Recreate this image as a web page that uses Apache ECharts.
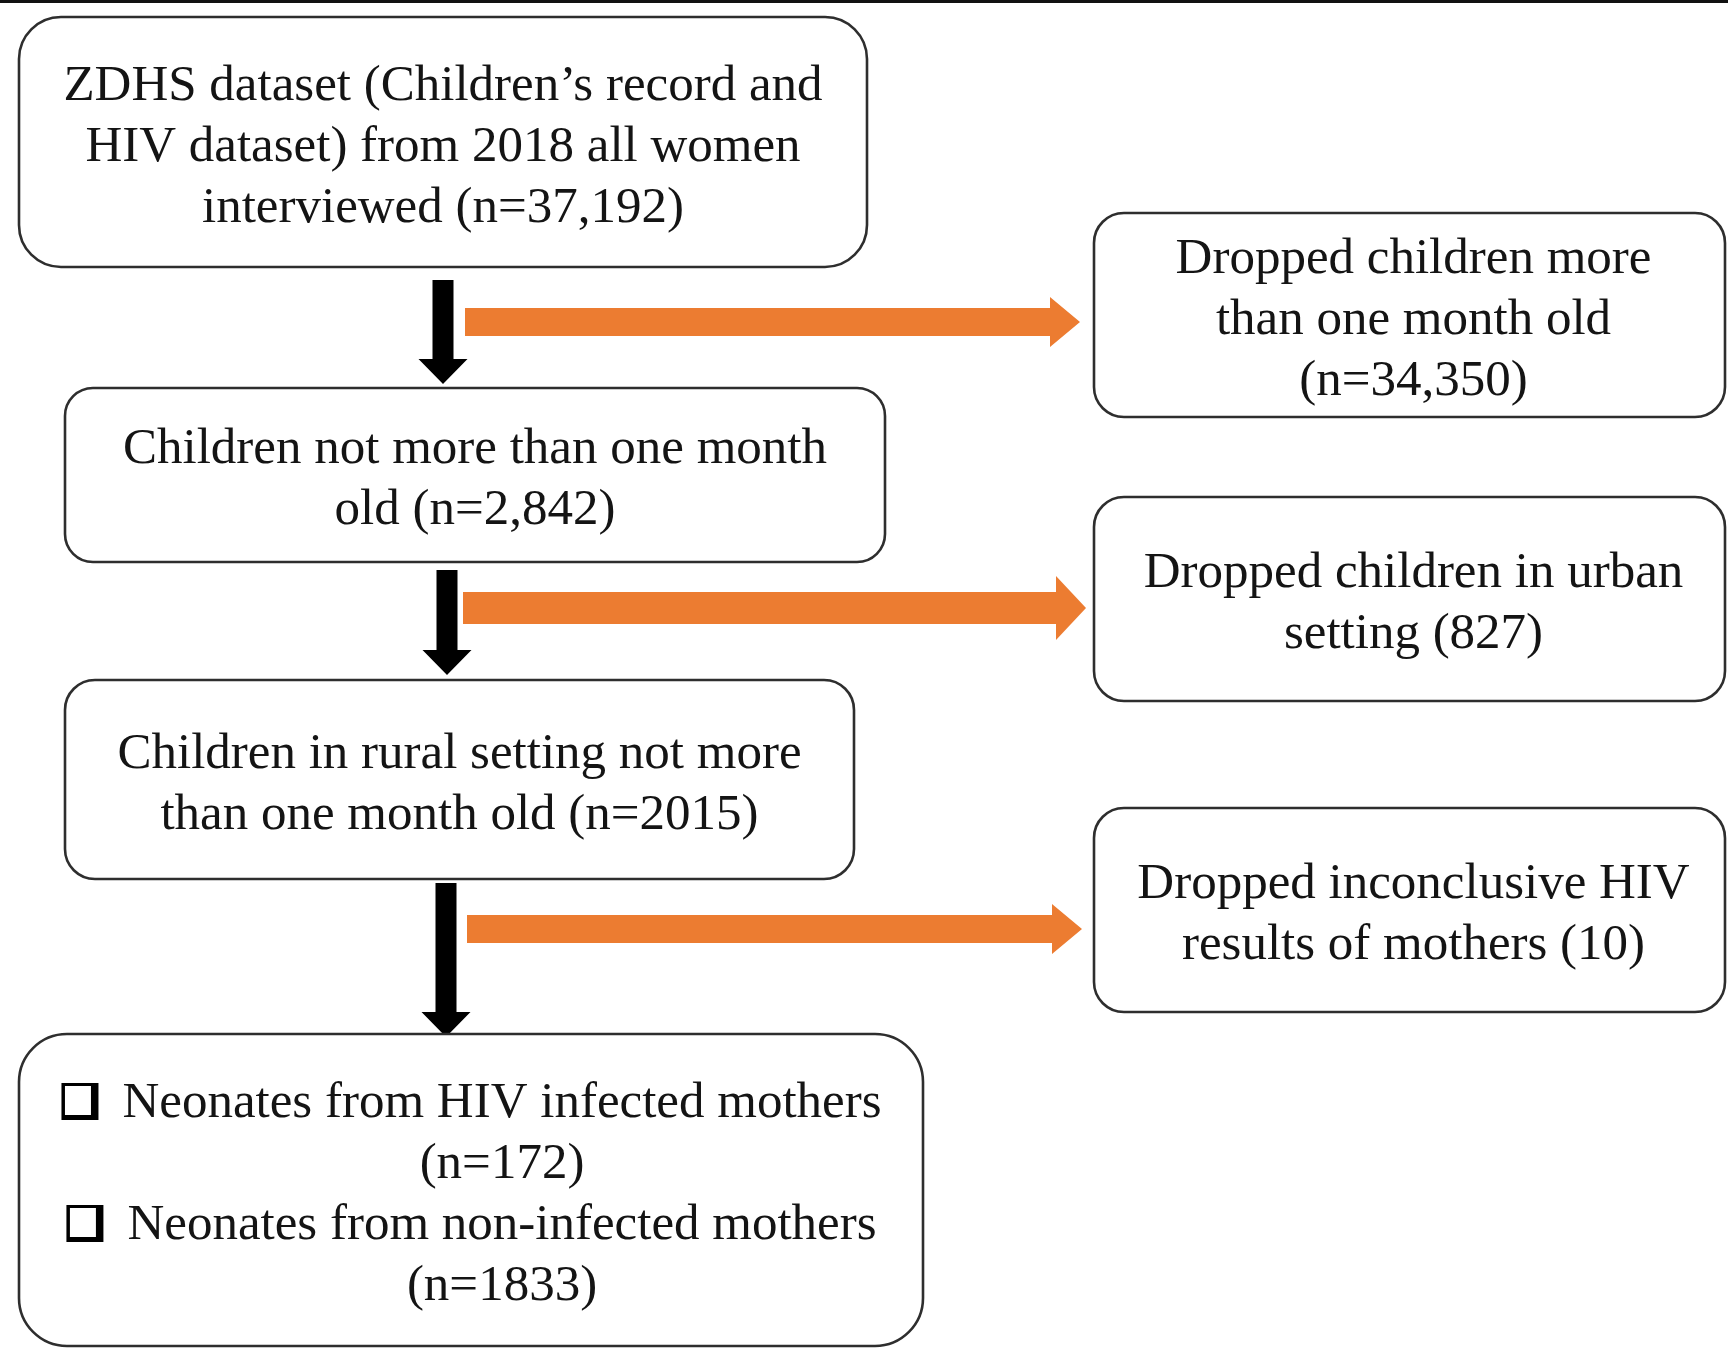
<!DOCTYPE html>
<html>
<head>
<meta charset="utf-8">
<style>
  html, body { margin: 0; padding: 0; background: #ffffff; }
  #chart { width: 1728px; height: 1348px; }
</style>
<script src="https://cdn.jsdelivr.net/npm/echarts@6/dist/echarts.min.js"></script>
</head>
<body>
<div id="chart"></div>
<script>
// ---------------- content (text) ----------------
const boxTexts = [
  ["ZDHS dataset (Children\u2019s record and", "HIV dataset) from 2018 all women", "interviewed (n=37,192)"],
  ["Dropped children more", "than one month old", "(n=34,350)"],
  ["Children not more than one month", "old (n=2,842)"],
  ["Dropped children in urban", "setting (827)"],
  ["Children in rural setting not more", "than one month old (n=2015)"],
  ["Dropped inconclusive HIV", "results of mothers (10)"],
  ["Neonates from HIV infected mothers", "(n=172)", "Neonates from non-infected mothers", "(n=1833)"]
];
// which lines carry a checkbox bullet (only last box)
const bulletLines = [[], [], [], [], [], [], [0, 2]];

// ---------------- layout (positions in chart units = pixels) ----------------
// [x0, y0, x1, y1, cornerRadius, textCenterOffsetX]
const boxLayout = [
  [19, 17, 867, 267, 42, 0],
  [1094, 213, 1725, 417, 30, 4],
  [65, 388, 885, 562, 28, 0],
  [1094, 497, 1725, 701, 30, 4],
  [65, 680, 854, 879, 30, 0],
  [1094, 808, 1725, 1012, 30, 4],
  [19, 1034, 923, 1346, 48, 31]
];
// black down arrows: [centerX, topY, tipY]
const downArrows = [
  [443, 280, 384],
  [447, 570, 675],
  [446, 883, 1037]
];
// orange right arrows: [startX, centerY, tipX, shaftHalfH, headHalfH]
const rightArrows = [
  [465, 322, 1080, 14, 25],
  [463, 608, 1086, 16, 32],
  [467, 929, 1082, 14, 25]
];

const FONT_SIZE = 51;
const LINE_GAP = 61;
const FONT = FONT_SIZE + 'px "Liberation Serif", "Times New Roman", serif';
const TEXT_COLOR = '#141414';
const BORDER_COLOR = '#2e2e2e';
const ORANGE = '#EC7C31';

const measureCtx = document.createElement('canvas').getContext('2d');
measureCtx.font = FONT;

const chart = echarts.init(document.getElementById('chart'), null, { renderer: 'canvas' });

function renderBox(params, api) {
  const i = params.dataIndex;
  const p0 = api.coord([api.value(0), api.value(1)]);
  const p1 = api.coord([api.value(2), api.value(3)]);
  const r = api.value(4);
  const dx = api.value(5);
  const children = [{
    type: 'rect',
    shape: { x: p0[0], y: p0[1], width: p1[0] - p0[0], height: p1[1] - p0[1], r: r },
    style: { fill: '#ffffff', stroke: BORDER_COLOR, lineWidth: 2.6 }
  }];
  const lines = boxTexts[i];
  const cx = (p0[0] + p1[0]) / 2 + dx;
  const cy = (p0[1] + p1[1]) / 2 + 5.5;
  const n = lines.length;
  lines.forEach(function (t, k) {
    const y = cy + (k - (n - 1) / 2) * LINE_GAP;
    children.push({
      type: 'text',
      style: {
        text: t, x: cx, y: y, font: FONT, fill: TEXT_COLOR,
        align: 'center', verticalAlign: 'middle'
      }
    });
    if (bulletLines[i].indexOf(k) >= 0) {
      const w = measureCtx.measureText(t).width;
      const left = cx - w / 2 - 61;
      const top = y - 21;
      children.push({
        type: 'rect',
        shape: { x: left, y: top, width: 37, height: 37 },
        style: { fill: '#000000' }
      });
      children.push({
        type: 'rect',
        shape: { x: left + 3.5, y: top + 3, width: 26, height: 29 },
        style: { fill: '#ffffff' }
      });
    }
  });
  return { type: 'group', children: children };
}

function renderDown(params, api) {
  const cx = api.value(0), y0 = api.value(1), y1 = api.value(2);
  const sw = 10.5, hw = 24.5, hl = 25;
  const pts = [
    [cx - sw, y0], [cx + sw, y0], [cx + sw, y1 - hl], [cx + hw, y1 - hl],
    [cx, y1], [cx - hw, y1 - hl], [cx - sw, y1 - hl]
  ].map(function (p) { return api.coord(p); });
  return { type: 'polygon', shape: { points: pts }, style: { fill: '#000000' } };
}

function renderRight(params, api) {
  const x0 = api.value(0), cy = api.value(1), x1 = api.value(2);
  const sh = api.value(3), hh = api.value(4);
  const hl = 30;
  const pts = [
    [x0, cy - sh], [x1 - hl, cy - sh], [x1 - hl, cy - hh], [x1, cy],
    [x1 - hl, cy + hh], [x1 - hl, cy + sh], [x0, cy + sh]
  ].map(function (p) { return api.coord(p); });
  return { type: 'polygon', shape: { points: pts }, style: { fill: ORANGE } };
}

const option = {
  animation: false,
  backgroundColor: '#ffffff',
  grid: { left: 0, right: 0, top: 0, bottom: 0 },
  xAxis: { type: 'value', min: 0, max: 1728, show: false },
  yAxis: { type: 'value', min: 0, max: 1348, inverse: true, show: false },
  graphic: [{
    type: 'rect', left: 0, top: 0,
    shape: { width: 1728, height: 3 },
    style: { fill: '#111111' }
  }],
  series: [
    { type: 'custom', renderItem: renderRight, data: rightArrows, clip: false, silent: true, z: 1 },
    { type: 'custom', renderItem: renderDown, data: downArrows, clip: false, silent: true, z: 2 },
    { type: 'custom', renderItem: renderBox, data: boxLayout, clip: false, silent: true, z: 3 }
  ]
};
chart.setOption(option);
</script>
</body>
</html>
